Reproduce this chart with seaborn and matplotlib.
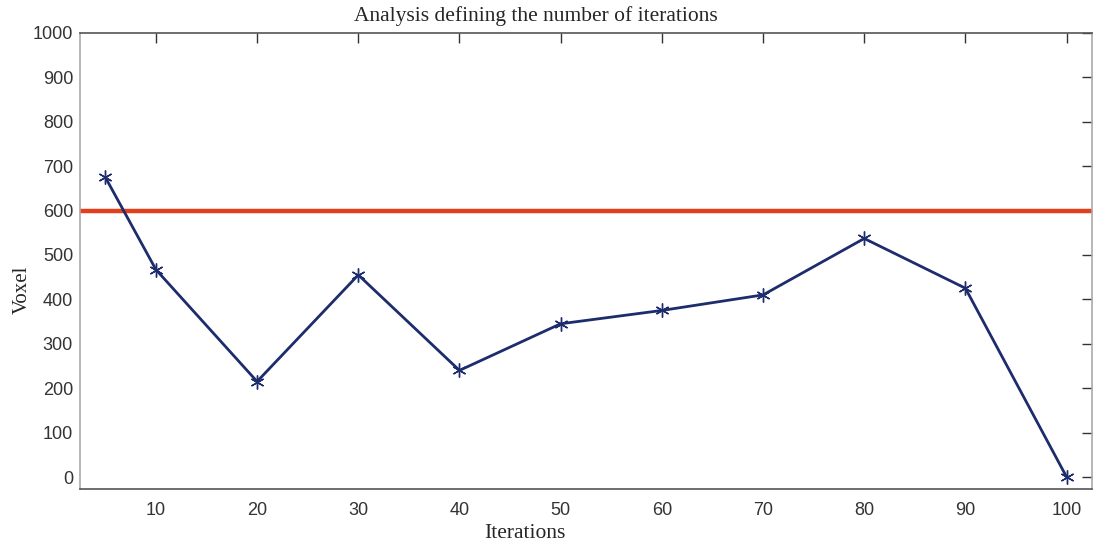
import matplotlib
matplotlib.use("Agg")
import matplotlib.pyplot as plt
import seaborn as sns
import pandas as pd

iterations = [5, 10, 20, 30, 40, 50, 60, 70, 80, 90, 100]
voxels = [675, 467, 215, 455, 240, 345, 375, 410, 537, 425, 0]
threshold = 600
x_ticks = [10, 20, 30, 40, 50, 60, 70, 80, 90, 100]
y_ticks = [0, 100, 200, 300, 400, 500, 600, 700, 800, 900, 1000]

sns.set_style("white")
plt.rcParams["font.family"] = ["Liberation Sans", "DejaVu Sans"]

df = pd.DataFrame({"Iterations": iterations, "Voxel": voxels})

fig = plt.figure(figsize=(10.93, 5.47), dpi=100)
ax = fig.add_axes([0.0732, 0.106, 0.9258, 0.834])

ax.axhline(threshold, color="#e2401c", linewidth=3.2, zorder=1)
sns.lineplot(data=df, x="Iterations", y="Voxel", ax=ax, color="#1c2c6c",
             linewidth=2, marker=(6, 2, 0), markersize=10, markeredgecolor="#1c2c6c",
             markeredgewidth=1, zorder=3)

ax.set_xlim(2.5, 102.5)
ax.set_ylim(-27, 1000)
ax.set_xticks(x_ticks)
ax.set_yticks(y_ticks)
ax.tick_params(direction="in", length=7.2, width=1, colors="#333333",
               labelsize=13, top=True, right=True, labelcolor="#333333")
ax.tick_params(axis="x", pad=9)
ax.tick_params(axis="y", pad=5)
for side in ["top", "bottom"]:
    ax.spines[side].set_color("#555555")
for side in ["left", "right"]:
    ax.spines[side].set_color("#aaaaaa")
for s in ax.spines.values():
    s.set_linewidth(1.2)

ax.set_xlabel("")
ax.set_ylabel("")
fig.text(536 / 1093, 1 - 16 / 547, "Analysis defining the number of iterations",
         family="Liberation Serif", fontsize=15.5, ha="center", va="center")
fig.text(525 / 1093, 1 - 533 / 547, "Iterations", family="Liberation Serif",
         fontsize=15.5, ha="center", va="center")
fig.text(22 / 1093, 1 - 290 / 547, "Voxel", family="Liberation Serif",
         fontsize=15, ha="center", va="center", rotation=90)

fig.savefig("out.png", dpi=100)
